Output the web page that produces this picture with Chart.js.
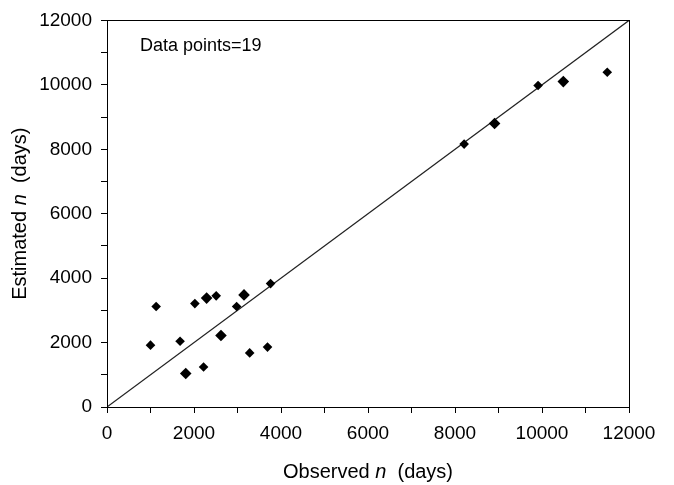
<!DOCTYPE html>
<html lang="en">
<head>
    <meta charset="UTF-8">
    <title>Observed vs Estimated n</title>
    <script src="https://cdn.jsdelivr.net/npm/chart.js"></script>
    <style>
        body {
            margin: 0;
            background-color: #fff;
        }
        #chart {
            display: block;
        }
    </style>
</head>
<body>
    <canvas id="chart" width="674" height="485"></canvas>

    <script>
        // observed vs estimated n (days)
        const observed = [1000, 1130, 1680, 1810, 2020, 2220, 2290, 2510, 2620, 2980,
                          3150, 3280, 3690, 3760, 8210, 8910, 9910, 10490, 11500];
        const estimated = [1920, 3120, 2040, 1040, 3210, 1240, 3380, 3450, 2220, 3120,
                           3480, 1680, 1860, 3830, 8160, 8800, 9980, 10100, 10390];
        // 1:1 reference line
        const refLine = [0, 12000];
        const axisMin = 0;
        const axisMax = 12000;
        const labelStep = 2000;
        const noteText = 'Data points=19';

        const FONT = '"Liberation Sans", Arial, sans-serif';

        // points that look doubled up in the original are drawn a bit larger
        const heavyPoints = [3, 6, 8, 10, 15, 17];

        const points = observed.map((x, i) => ({ x: x, y: estimated[i] }));
        const linePts = refLine.map(v => ({ x: v, y: v }));

        // draws the frame, the note and the axis titles (with italic n)
        const framePlugin = {
            id: 'frame',
            afterDraw(chart) {
                const c = chart.ctx;
                const a = chart.chartArea;
                c.save();
                c.strokeStyle = '#000';
                c.lineWidth = 1;
                c.strokeRect(Math.round(a.left) + 0.5, Math.round(a.top) + 0.5,
                    Math.round(a.right - a.left), Math.round(a.bottom - a.top));

                c.fillStyle = '#000';
                c.textBaseline = 'middle';
                c.textAlign = 'left';
                c.font = '18px ' + FONT;
                c.fillText(noteText, 140, 46);

                drawTitle(c, ['Observed ', 'n', '  (days)'], (a.left + a.right) / 2, 472);

                c.translate(20, (a.top + a.bottom) / 2);
                c.rotate(-Math.PI / 2);
                drawTitle(c, ['Estimated ', 'n', '  (days)'], 0, 0);
                c.restore();
            }
        };

        function drawTitle(c, parts, cx, cy) {
            const fonts = ['20px ' + FONT, 'italic 20px ' + FONT, '20px ' + FONT];
            let total = 0;
            parts.forEach((p, i) => {
                c.font = fonts[i];
                total += c.measureText(p).width;
            });
            let x = cx - total / 2;
            c.textAlign = 'left';
            c.textBaseline = 'middle';
            parts.forEach((p, i) => {
                c.font = fonts[i];
                c.fillText(p, x, cy);
                x += c.measureText(p).width;
            });
        }

        const tickFont = { family: FONT, size: 19 };

        new Chart(document.getElementById('chart'), {
            type: 'scatter',
            data: {
                datasets: [
                    {
                        label: 'Data',
                        data: points,
                        pointStyle: 'rectRot',
                        pointRadius: ctx => heavyPoints.includes(ctx.dataIndex) ? 5.8 : 4.8,
                        backgroundColor: '#000',
                        borderColor: '#000',
                        borderWidth: 0,
                        order: 1
                    },
                    {
                        type: 'line',
                        label: '1:1',
                        data: linePts,
                        borderColor: '#222',
                        borderWidth: 1.2,
                        pointRadius: 0,
                        fill: false,
                        order: 2
                    }
                ]
            },
            options: {
                responsive: false,
                animation: false,
                layout: {
                    padding: { top: 17, right: 45, left: 0, bottom: 0 }
                },
                plugins: {
                    legend: { display: false },
                    tooltip: { enabled: false }
                },
                scales: {
                    x: {
                        type: 'linear',
                        min: axisMin,
                        max: axisMax,
                        afterFit(scale) { scale.height = 78; },
                        border: { display: true, color: '#000', width: 1 },
                        grid: {
                            drawOnChartArea: false,
                            drawTicks: true,
                            tickLength: 6,
                            color: '#000'
                        },
                        ticks: {
                            stepSize: 1000,
                            color: '#000',
                            font: tickFont,
                            padding: 9,
                            maxRotation: 0,
                            autoSkip: false,
                            callback: v => (v % labelStep === 0 ? v : '')
                        }
                    },
                    y: {
                        type: 'linear',
                        min: axisMin,
                        max: axisMax,
                        afterFit(scale) { scale.width = 107; },
                        border: { display: true, color: '#000', width: 1 },
                        grid: {
                            drawOnChartArea: false,
                            drawTicks: true,
                            tickLength: 6,
                            color: '#000'
                        },
                        ticks: {
                            stepSize: 1000,
                            color: '#000',
                            font: tickFont,
                            padding: 9,
                            autoSkip: false,
                            callback: v => (v % labelStep === 0 ? v : '')
                        }
                    }
                }
            },
            plugins: [framePlugin]
        });
    </script>
</body>
</html>
